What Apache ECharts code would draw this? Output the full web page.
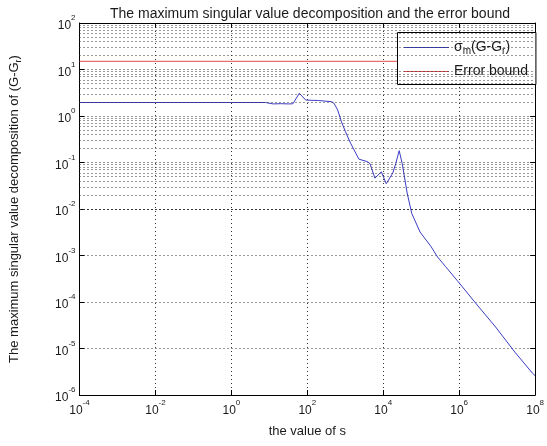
<!DOCTYPE html>
<html>
<head>
<meta charset="utf-8">
<script src="https://cdn.jsdelivr.net/npm/echarts@6/dist/echarts.min.js"></script>
<style>
  html, body { margin: 0; padding: 0; background: #fff; }
  #chart { width: 547px; height: 446px; }
</style>
</head>
<body>
<div id="chart"></div>
<script>
// Frequency points s and the largest singular value of G - Gr at each point
const sValues = [
  1e-4, 1e-2, 1, 7.9, 8.9, 12.6, 20, 31.6, 41.7, 61.7, 91, 200, 437,
  500, 631, 794, 1000, 1380, 2290, 3720, 4470, 6030, 8910, 12000,
  17800, 21400, 26300, 31600, 42700, 56200, 93300, 182000, 269000,
  437000, 871000, 2.82e6, 9.12e6, 2.95e7, 8.51e7, 1e8
];
const sigmaValues = [
  1.95, 1.95, 1.95, 1.95, 1.83, 1.82, 1.84, 1.82, 1.83, 3.08, 2.2, 2.15, 2.03,
  1.9, 1.35, 0.75, 0.47, 0.26, 0.118, 0.105, 0.095, 0.046, 0.063, 0.035,
  0.059, 0.095, 0.18, 0.095, 0.022, 0.0081, 0.0032, 0.00155, 0.00093,
  0.00058, 0.000295, 9.1e-5, 2.9e-5, 8.3e-6, 2.95e-6, 2.6e-6
];
// Constant error bound
const errorBound = 15;
const boundS = [1e-4, 1e8];

// Axis ranges (decades) and tick steps in exponent units
const xRange = [1e-4, 1e8];
const yRange = [1e-6, 1e2];
const xStep = 2;
const yStep = 1;

// Intermediate grid levels 2..9 within each decade of the y range
const minorLevels = [];
for (let e = -6; e < 2; e++) {
  for (const m of [2, 3, 4, 5, 6, 7, 8, 9]) minorLevels.push(m * Math.pow(10, e));
}

const FONT = 'Liberation Sans, Arial, Helvetica, sans-serif';
const TXT = '#1a1a1a';
const BLUE = '#3c3cc4';
const RED = '#e04a4a';

const powLabel = v => {
  const e = Math.round(Math.log10(v));
  return '{b|10}{e|' + e + '}';
};
const powRich = {
  b: { fontSize: 12, fontFamily: FONT, color: TXT, lineHeight: 18, verticalAlign: 'bottom' },
  e: { fontSize: 8, fontFamily: FONT, color: TXT, lineHeight: 18, verticalAlign: 'top' }
};

const dotted = { type: [1, 3], color: '#333', width: 1 };

const chart = echarts.init(document.getElementById('chart'), null, { renderer: 'canvas' });

const baseAxis = (min, max, step) => ({
  type: 'log',
  logBase: 10,
  min: min,
  max: max,
  interval: step,
  axisLine: { show: true, onZero: false, lineStyle: { color: '#000', width: 1 } },
  axisTick: { show: true, inside: true, length: 5, lineStyle: { color: '#000' } },
  minorTick: { show: false },
  splitLine: { show: false }
});

chart.setOption({
  animation: false,
  backgroundColor: '#fff',
  title: {
    text: 'The maximum singular value decomposition and the error bound',
    left: 305,
    textAlign: 'center',
    top: 2,
    textStyle: { fontSize: 14, fontWeight: 'normal', fontFamily: FONT, color: TXT }
  },
  grid: { left: 69, right: 6, top: 23, bottom: 51, containLabel: false },
  legend: {
    data: [
      { name: 'sigma', lineStyle: { color: BLUE, width: 1 } },
      { name: 'Error bound', lineStyle: { color: RED, width: 1 } }
    ],
    orient: 'vertical',
    left: 397.5,
    top: 32.5,
    padding: [8, 8, 6, 6],
    itemGap: 8,
    itemWidth: 45,
    itemHeight: 14,
    backgroundColor: '#fff',
    borderColor: '#000',
    borderWidth: 1,
    borderRadius: 0,
    itemStyle: { color: 'rgba(0,0,0,0)', borderWidth: 0, opacity: 0 },
    formatter: name => name === 'sigma'
      ? '{t|σ}{s|m}{t|(G-G}{s|r}{t|)}'
      : '{t|Error bound}',
    textStyle: {
      fontFamily: FONT,
      rich: {
        t: { fontSize: 14, fontFamily: FONT, color: TXT, lineHeight: 18, verticalAlign: 'middle' },
        s: { fontSize: 10, fontFamily: FONT, color: TXT, lineHeight: 18, verticalAlign: 'bottom' }
      }
    }
  },
  xAxis: [
    Object.assign(baseAxis(xRange[0], xRange[1], xStep), {
      position: 'bottom',
      name: 'the value of s',
      nameLocation: 'middle',
      nameGap: 30,
      nameTextStyle: { fontSize: 13, fontFamily: FONT, color: TXT },
      axisLabel: { formatter: powLabel, rich: powRich, margin: 4 },
      splitLine: { show: true, lineStyle: dotted }
    }),
    Object.assign(baseAxis(xRange[0], xRange[1], xStep), {
      position: 'top',
      axisLabel: { show: false }
    })
  ],
  yAxis: [
    Object.assign(baseAxis(yRange[0], yRange[1], yStep), {
      position: 'left',
      name: '{n|The maximum singular value decomposition of (G-G}{r|r}{n|)}',
      nameLocation: 'middle',
      nameGap: 56,
      nameTextStyle: {
        rich: {
          n: { fontSize: 13, fontFamily: FONT, color: TXT, lineHeight: 18, verticalAlign: 'middle' },
          r: { fontSize: 9, fontFamily: FONT, color: TXT, lineHeight: 18, verticalAlign: 'bottom' }
        }
      },
      axisLabel: { formatter: powLabel, rich: powRich, margin: 4 },
      splitLine: { show: true, lineStyle: dotted }
    }),
    Object.assign(baseAxis(yRange[0], yRange[1], yStep), {
      position: 'right',
      axisLabel: { show: false }
    })
  ],
  series: [
    {
      name: 'minor grid',
      type: 'line',
      data: [],
      silent: true,
      z: 1,
      markLine: {
        silent: true,
        symbol: ['none', 'none'],
        label: { show: false },
        lineStyle: dotted,
        emphasis: { disabled: true },
        animation: false,
        data: minorLevels.map(v => ({ yAxis: v }))
      }
    },
    {
      name: 'sigma',
      type: 'line',
      symbol: 'none',
      z: 3,
      lineStyle: { color: BLUE, width: 1 },
      itemStyle: { color: BLUE },
      data: sValues.map((s, i) => [s, sigmaValues[i]])
    },
    {
      name: 'Error bound',
      type: 'line',
      symbol: 'none',
      z: 3,
      lineStyle: { color: RED, width: 1 },
      itemStyle: { color: RED },
      data: boundS.map(s => [s, errorBound])
    }
  ]
});
</script>
</body>
</html>
